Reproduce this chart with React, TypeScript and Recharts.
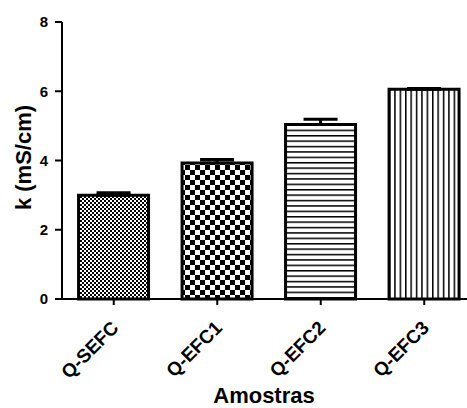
import { BarChart, Bar, XAxis, YAxis, Cell, ErrorBar } from 'recharts';

const samples = ['Q-SEFC', 'Q-EFC1', 'Q-EFC2', 'Q-EFC3'];
const conductivity = [3.0, 3.93, 5.04, 6.06];
const errUp = [0.07, 0.1, 0.15, 0.02];
const yTicks = [0, 2, 4, 6, 8];
const fills = ['fineCheck', 'coarseCheck', 'hLines', 'vLines'];

const data = samples.map((name, i) => ({ name, k: conductivity[i], err: [0, errUp[i]] }));

const font = '"Liberation Sans", Arial, sans-serif';

// rotated category label, end of text sits just right of the tick
function sampleTick(props: any) {
  const tx = Number(props.x) + 6;
  const ty = Number(props.y) + 22;
  return (
    <text
      key={props.index}
      x={tx}
      y={ty}
      transform={`rotate(-45 ${tx} ${ty})`}
      textAnchor="end"
      style={{ fontSize: '19px', fontWeight: 700, fontFamily: font }}
      fill="#000"
    >
      {props.payload.value}
    </text>
  );
}

export default function App() {
  return (
    <div style={{ position: 'absolute', left: 0, top: 0, width: 467, height: 408, overflow: 'hidden', background: '#fff' }}>
      <BarChart width={478} height={408} data={data} margin={{ top: 22, right: 2, left: 0, bottom: 0 }} barCategoryGap="16%">
        <defs>
          <pattern id="fineCheck" patternUnits="userSpaceOnUse" width={4} height={4}>
            <rect width={4} height={4} fill="#fff" />
            <rect width={2} height={2} fill="#000" />
            <rect x={2} y={2} width={2} height={2} fill="#000" />
          </pattern>
          <pattern id="coarseCheck" patternUnits="userSpaceOnUse" width={10} height={10}>
            <rect width={10} height={10} fill="#fff" />
            <rect width={5} height={5} fill="#000" />
            <rect x={5} y={5} width={5} height={5} fill="#000" />
          </pattern>
          <pattern id="hLines" patternUnits="userSpaceOnUse" width={6} height={5.4}>
            <rect width={6} height={5.4} fill="#fff" />
            <rect y={0} width={6} height={1.5} fill="#000" />
          </pattern>
          <pattern id="vLines" patternUnits="userSpaceOnUse" width={5.4} height={6}>
            <rect width={5.4} height={6} fill="#fff" />
            <rect x={0} width={1.5} height={6} fill="#000" />
          </pattern>
        </defs>
        <XAxis
          dataKey="name"
          height={109}
          axisLine={{ stroke: '#000', strokeWidth: 2 }}
          tickLine={{ stroke: '#000', strokeWidth: 2 }}
          tickSize={6}
          interval={0}
          tick={sampleTick}
          label={{
            content: ({ viewBox }: any) => (
              <text x={viewBox.x + 202} y={viewBox.y + 104} textAnchor="middle" fontSize={22} fontWeight="bold" fontFamily={font} fill="#000">
                Amostras
              </text>
            ),
          }}
        />
        <YAxis
          domain={[0, 8]}
          ticks={yTicks}
          width={62}
          axisLine={{ stroke: '#000', strokeWidth: 2 }}
          tickLine={{ stroke: '#000', strokeWidth: 2 }}
          tickSize={7}
          tickMargin={7}
          tick={{ fontSize: 15, fontWeight: 'bold', fontFamily: font, fill: '#000' }}
          label={{
            content: ({ viewBox }: any) => {
              const lx = viewBox.x + 31;
              const ly = viewBox.y + viewBox.height / 2 - 3;
              return (
                <text x={lx} y={ly} transform={`rotate(-90, ${lx}, ${ly})`} textAnchor="middle" fontSize={22} fontWeight="bold" fontFamily={font} fill="#000">
                  k (mS/cm)
                </text>
              );
            },
          }}
        />
        <Bar dataKey="k" stroke="#000" strokeWidth={3} isAnimationActive={false}>
          {data.map((d, i) => (
            <Cell key={d.name} fill={`url(#${fills[i]})`} />
          ))}
          <ErrorBar dataKey="err" width={17} stroke="#000" strokeWidth={3} direction="y" isAnimationActive={false} />
        </Bar>
      </BarChart>
    </div>
  );
}
